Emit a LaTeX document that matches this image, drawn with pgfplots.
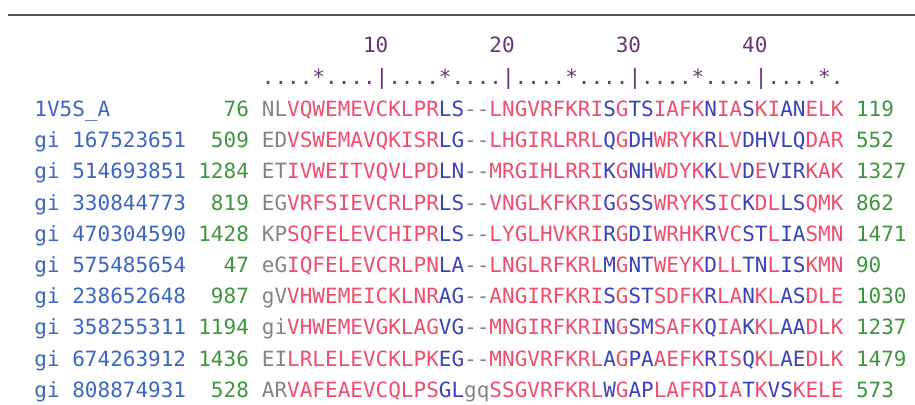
\documentclass[border=0pt]{standalone}
\usepackage{pgfplots}
\pgfplotsset{compat=1.18}
\usepackage{fontspec}
\setmonofont{DejaVu Sans Mono}
\definecolor{cR}{RGB}{240,78,108}
\definecolor{cB}{RGB}{58,66,190}
\definecolor{cG}{RGB}{132,132,132}
\definecolor{cName}{RGB}{60,102,196}
\definecolor{cNum}{RGB}{62,150,62}
\definecolor{cRul}{RGB}{104,54,116}
\definecolor{cLine}{RGB}{85,85,85}
\newcommand\R[1]{\textcolor{cR}{#1}}
\newcommand\B[1]{\textcolor{cB}{#1}}
\newcommand\G[1]{\textcolor{cG}{#1}}
\newcommand\F{\fontsize{21}{25}\selectfont\ttfamily}
% grid: column k left edge = 34.2 + 12.64 k
\newcommand\row[5]{%
  \node[anchor=base west,inner sep=0pt,text=cName,font=\F] at (axis cs:34.2,#1) {#2};
  \node[anchor=base east,inner sep=0pt,text=cNum,font=\F] at (axis cs:249.1,#1) {#3};
  \node[anchor=base west,inner sep=0pt,font=\F] at (axis cs:261.7,#1) {#4};
  \node[anchor=base west,inner sep=0pt,text=cNum,font=\F] at (axis cs:855.8,#1) {#5};
}
\begin{document}
\begin{tikzpicture}
\begin{axis}[width=915pt,height=404pt,scale only axis,hide axis,
  xmin=0,xmax=915,ymin=0,ymax=404,y dir=reverse,clip=false]
\draw[line width=1.8pt,cLine] (axis cs:8,15) -- (axis cs:915,15);
% ruler
\node[anchor=base west,inner sep=0pt,text=cRul,font=\F] at (axis cs:362.8,52.5) {10};
\node[anchor=base west,inner sep=0pt,text=cRul,font=\F] at (axis cs:489.2,52.5) {20};
\node[anchor=base west,inner sep=0pt,text=cRul,font=\F] at (axis cs:615.6,52.5) {30};
\node[anchor=base west,inner sep=0pt,text=cRul,font=\F] at (axis cs:742.0,52.5) {40};
\node[anchor=base west,inner sep=0pt,text=cRul,font=\F] at (axis cs:261.7,84.5) {....*....|....*....|....*....|....*....|....*.};
% rows
\row{116.5}{1V5S\_A}{76}{\G{NL}\R{VQWEMEVCKLPR}\B{LS}\G{--}\R{LNGVRFKRI}\B{S}\R{G}\B{TS}\R{IAFK}\B{N}\R{IA}\B{S}\R{KI}\B{AN}\R{ELK}}{119}
\row{147.7}{gi 167523651}{509}{\G{ED}\R{VSWEMAVQKISR}\B{LG}\G{--}\R{LHGIRLRRL}\B{Q}\R{G}\B{DH}\R{WRYK}\B{R}\R{LV}\B{DHVLQ}\R{DAR}}{552}
\row{178.9}{gi 514693851}{1284}{\G{ET}\R{IVWEITVQVLPD}\B{LN}\G{--}\R{MRGIHLRRI}\B{K}\R{G}\B{NH}\R{WDYK}\B{K}\R{LV}\B{D}\R{E}\B{VIR}\R{KAK}}{1327}
\row{210.1}{gi 330844773}{819}{\G{EG}\R{VRFSIEVCRLPR}\B{LS}\G{--}\R{VNGLKFKRI}\B{G}\R{G}\B{SS}\R{WRYK}\B{S}\R{IC}\B{K}\R{DL}\B{LS}\R{QMK}}{862}
\row{241.3}{gi 470304590}{1428}{\G{KP}\R{SQFELEVCHIPR}\B{LS}\G{--}\R{LYGLHVKRI}\B{R}\R{G}\B{DI}\R{WRHK}\B{R}\R{VC}\B{ST}\R{L}\B{IA}\R{SMN}}{1471}
\row{272.5}{gi 575485654}{47}{\G{eG}\R{IQFELEVCRLPN}\B{LA}\G{--}\R{LNGLRFKRL}\B{M}\R{G}\B{NT}\R{WEYK}\B{D}\R{LL}\B{TN}\R{L}\B{IS}\R{KMN}}{90}
\row{303.7}{gi 238652648}{987}{\G{gV}\R{VHWEMEICKLNR}\B{AG}\G{--}\R{ANGIRFKRI}\B{S}\R{G}\B{ST}\R{SDFK}\B{R}\R{LA}\B{N}\R{KL}\B{AS}\R{DLE}}{1030}
\row{334.9}{gi 358255311}{1194}{\G{gi}\R{VHWEMEVGKLAG}\B{VG}\G{--}\R{MNGIRFKRI}\B{N}\R{G}\B{SM}\R{SAFK}\B{Q}\R{IA}\B{K}\R{KL}\B{AA}\R{DLK}}{1237}
\row{366.1}{gi 674263912}{1436}{\G{EI}\R{LRLELEVCKLPK}\B{EG}\G{--}\R{MNGVRFKRL}\B{A}\R{G}\B{PA}\R{AEFK}\B{R}\R{IS}\B{Q}\R{KL}\B{AE}\R{DLK}}{1479}
\row{397.3}{gi 808874931}{528}{\G{AR}\R{VAFEAEVCQLPS}\B{GL}\G{gq}\R{SSGVRFKRL}\B{W}\R{G}\B{AP}\R{LAFR}\B{D}\R{IA}\B{T}\R{K}\B{VS}\R{KELE}}{573}
\end{axis}
\pgfresetboundingbox
\path (0,0) rectangle (915pt,404pt);
\end{tikzpicture}
\end{document}
